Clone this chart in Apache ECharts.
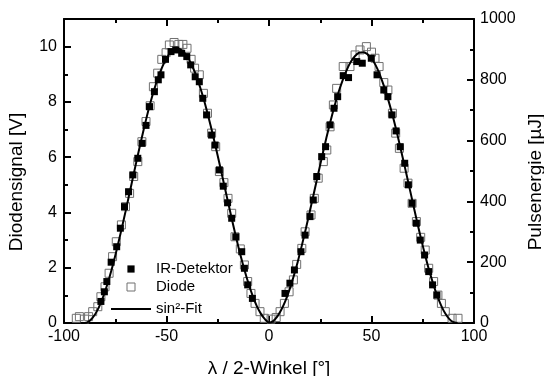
<!DOCTYPE html>
<html><head><meta charset="utf-8">
<script src="https://cdn.jsdelivr.net/npm/echarts@6/dist/echarts.min.js"></script>
<style>html,body{margin:0;padding:0;background:#fff}#c{width:544px;height:376px}</style>
</head><body><div id="c"></div>
<script>
// Axis ticks
const xTicks = [-100, -50, 0, 50, 100];
const leftTicks = [0, 2, 4, 6, 8, 10];
const leftMax = 11;
const rightTicks = [0, 200, 400, 600, 800, 1000];

// Series names
const seriesNames = ['IR-Detektor', 'Diode', 'sin\u00B2-Fit'];

// Diode (open squares): [angle, V]
const diode = [[-94,0.17],[-92.5,0.23],[-90,0.14],[-88,0.23],[-86,0.41],[-83.5,0.59],[-82,0.95],[-80,1.31],[-78,1.80],[-76.3,2.40],[-74.5,2.94],[-72,3.55],[-70,4.21],[-68,4.69],[-66,5.30],[-64,5.84],[-62,6.56],[-60,7.29],[-58,7.86],[-56.4,8.55],[-54.3,9.04],[-52.3,9.54],[-50.2,9.78],[-48.6,10.06],[-46.3,10.15],[-44,10.08],[-42,10.08],[-40,9.94],[-38,9.54],[-36.3,9.22],[-34,8.98],[-32,8.31],[-30,7.59],[-28,6.87],[-26,6.38],[-24.2,5.48],[-22,5.08],[-20,4.51],[-18.2,3.97],[-16.6,3.12],[-14,2.68],[-12,2.10],[-10.4,1.50],[-8.8,1.07],[-6.8,0.71],[-4.4,0.41],[-2.3,0.17],[1,0.14],[3.5,0.20],[5.4,0.41],[7.5,0.71],[9.8,1.13],[11.9,1.56],[13.5,2.12],[16,2.70],[17.6,3.30],[20.5,3.91],[22.1,4.51],[24,5.24],[26.5,5.84],[28.2,6.26],[29.8,7.10],[31.4,7.89],[33,8.49],[36.2,9.28],[39.5,9.28],[42,9.70],[44.4,9.88],[47.5,10.00],[50,9.80],[51.7,9.58],[53.7,9.28],[56,8.70],[58,8.43],[60.2,7.59],[61.8,6.87],[63.6,6.32],[65.9,5.60],[67.8,5.06],[69.8,4.33],[71.9,3.67],[74,3.10],[76.2,2.64],[77.9,1.98],[80.3,1.50],[82.4,1.01],[84.1,0.71],[86,0.41],[89.3,0.17],[92.2,0.17]];

// IR-Detektor (filled squares): [angle, V]
const irDetektor = [[-82,0.78],[-80.3,1.13],[-79.1,1.50],[-77,2.20],[-74.3,2.76],[-72.5,3.43],[-70.5,4.21],[-68.5,4.75],[-66.4,5.36],[-64,5.96],[-61.9,6.50],[-60,7.15],[-58.3,7.83],[-55.9,8.37],[-54,8.80],[-52.7,8.98],[-50.5,9.54],[-47.8,9.82],[-45.5,9.88],[-42.6,9.76],[-40.1,9.64],[-38.2,9.34],[-36,8.91],[-34,8.73],[-32.3,8.13],[-30.4,7.53],[-28,6.80],[-26.3,6.44],[-24.2,5.54],[-22.3,4.95],[-20.2,4.35],[-18.2,3.79],[-16.2,3.12],[-13.3,2.58],[-12,1.98],[-10.4,1.38],[-8.1,0.89],[7.8,1.07],[10.2,1.44],[12.4,1.92],[15.6,2.58],[17.6,3.18],[20,3.85],[21.6,4.45],[23.3,5.30],[25.7,6.02],[27.6,6.38],[29.8,7.17],[31.7,7.77],[33.5,8.19],[36.2,8.95],[38.8,8.88],[42.8,9.46],[45.5,9.40],[49.9,9.58],[52.7,8.98],[56,8.43],[58,8.19],[60,7.53],[62,6.95],[64,6.38],[66.2,5.78],[68,5.00],[69.8,4.33],[71.9,3.61],[73.8,3.00],[75.9,2.46],[77.9,1.86],[79.8,1.38],[81.9,1.01]];

// sin^2 fit curve: [angle, V]
const fit = [[-92,0],[-90,0],[-88,0.05],[-86,0.19],[-84,0.42],[-82,0.74],[-80,1.14],[-78,1.61],[-76,2.14],[-74,2.74],[-72,3.37],[-70,4.03],[-68,4.71],[-66,5.39],[-64,6.07],[-62,6.72],[-60,7.35],[-58,7.93],[-56,8.45],[-54,8.90],[-52,9.28],[-50,9.58],[-48,9.79],[-46,9.90],[-44,9.92],[-42,9.83],[-40,9.65],[-38,9.39],[-36,9.04],[-34,8.62],[-32,8.14],[-30,7.59],[-28,7.00],[-26,6.37],[-24,5.72],[-22,5.05],[-20,4.38],[-18,3.72],[-16,3.08],[-14,2.48],[-12,1.93],[-10,1.43],[-8,0.99],[-6,0.62],[-4,0.34],[-2,0.14],[0,0.02],[2,0.07],[4,0.23],[6,0.48],[8,0.80],[10,1.21],[12,1.68],[14,2.21],[16,2.80],[18,3.42],[20,4.07],[22,4.73],[24,5.40],[26,6.06],[28,6.70],[30,7.30],[32,7.86],[34,8.37],[36,8.80],[38,9.17],[40,9.46],[42,9.66],[44,9.78],[46,9.80],[48,9.73],[50,9.57],[52,9.33],[54,9.00],[56,8.59],[58,8.12],[60,7.59],[62,7.01],[64,6.38],[66,5.73],[68,5.07],[70,4.40],[72,3.74],[74,3.10],[76,2.50],[78,1.94],[80,1.44],[82,1.00],[84,0.63],[86,0.34],[88,0.14],[90,0.03],[92,0]];

const FONT = '"Liberation Sans", Arial, Helvetica, sans-serif';
const black = '#000';
const diodeGray = '#707070';

function axisCommon(extra) {
  return Object.assign({
    type: 'value',
    axisLine: { show: true, onZero: false, lineStyle: { color: black, width: 2 } },
    axisTick: { show: true, inside: true, length: 7, lineStyle: { color: black, width: 2 } },
    minorTick: { show: true, splitNumber: 2, length: 4, lineStyle: { color: black, width: 2 } },
    splitLine: { show: false },
    minorSplitLine: { show: false },
    axisLabel: { color: black, fontSize: 16, fontFamily: FONT },
    nameTextStyle: { color: black, fontSize: 19, fontFamily: FONT },
    nameLocation: 'middle'
  }, extra);
}

const chart = echarts.init(document.getElementById('c'), null, { renderer: 'canvas' });

const legendBase = {
  orient: 'vertical', left: 110, itemWidth: 40, itemGap: 0, padding: 0,
  selectedMode: false,
  textStyle: { color: black, fontSize: 15, fontFamily: FONT, lineHeight: 16 }
};

chart.setOption({
  animation: false,
  backgroundColor: '#fff',
  grid: { left: 64, right: 70, top: 19, bottom: 53, containLabel: false, outerBoundsMode: 'none' },
  legend: [
    Object.assign({}, legendBase, { top: 261, itemHeight: 9, data: [{ name: seriesNames[0] }] }),
    Object.assign({}, legendBase, { top: 279, itemHeight: 10,
      data: [{ name: seriesNames[1], itemStyle: { color: 'rgba(255,255,255,0)', borderColor: diodeGray, borderWidth: 1 } }] }),
    Object.assign({}, legendBase, { top: 301, itemHeight: 8,
      data: [{ name: seriesNames[2], itemStyle: { opacity: 0 } }] })
  ],
  xAxis: [
    axisCommon({
      position: 'bottom', min: xTicks[0], max: xTicks[xTicks.length - 1], interval: xTicks[1] - xTicks[0],
      name: '\u03BB / 2-Winkel [\u00B0]', nameGap: 36,
      axisLabel: { color: black, fontSize: 16, fontFamily: FONT, margin: 6 }
    }),
    axisCommon({
      position: 'top', min: xTicks[0], max: xTicks[xTicks.length - 1], interval: xTicks[1] - xTicks[0],
      axisLabel: { show: false }
    })
  ],
  yAxis: [
    axisCommon({
      position: 'left', min: leftTicks[0], max: leftMax, interval: leftTicks[1] - leftTicks[0],
      name: 'Diodensignal [V]', nameGap: 38,
      nameTextStyle: { color: black, fontSize: 19, fontFamily: FONT, padding: [0, 22, 0, 0] },
      axisLabel: { color: black, fontSize: 16, fontFamily: FONT, margin: 7, showMaxLabel: false,
        formatter: v => (leftTicks.indexOf(v) >= 0 ? String(v) : '') }
    }),
    axisCommon({
      position: 'right', min: rightTicks[0], max: rightTicks[rightTicks.length - 1], interval: rightTicks[1] - rightTicks[0],
      name: 'Pulsenergie [\u00B5J]', nameGap: 52,
      nameTextStyle: { color: black, fontSize: 19, fontFamily: FONT, padding: [0, 22, 0, 0] },
      axisLabel: { color: black, fontSize: 16, fontFamily: FONT, margin: 6, formatter: v => String(v) }
    })
  ],
  series: [
    {
      name: seriesNames[1], type: 'line', data: diode, symbol: 'rect', symbolSize: 8, showSymbol: true,
      lineStyle: { opacity: 0 },
      itemStyle: { color: 'rgba(255,255,255,0)', borderColor: diodeGray, borderWidth: 1 }, z: 2
    },
    {
      name: seriesNames[0], type: 'line', data: irDetektor, symbol: 'rect', symbolSize: 7, showSymbol: true,
      lineStyle: { opacity: 0 },
      itemStyle: { color: black }, z: 3
    },
    {
      name: seriesNames[2], type: 'line', data: fit, symbol: 'none', smooth: 0.3,
      lineStyle: { color: black, width: 2 }, itemStyle: { color: black }, z: 4
    }
  ]
});
</script></body></html>
